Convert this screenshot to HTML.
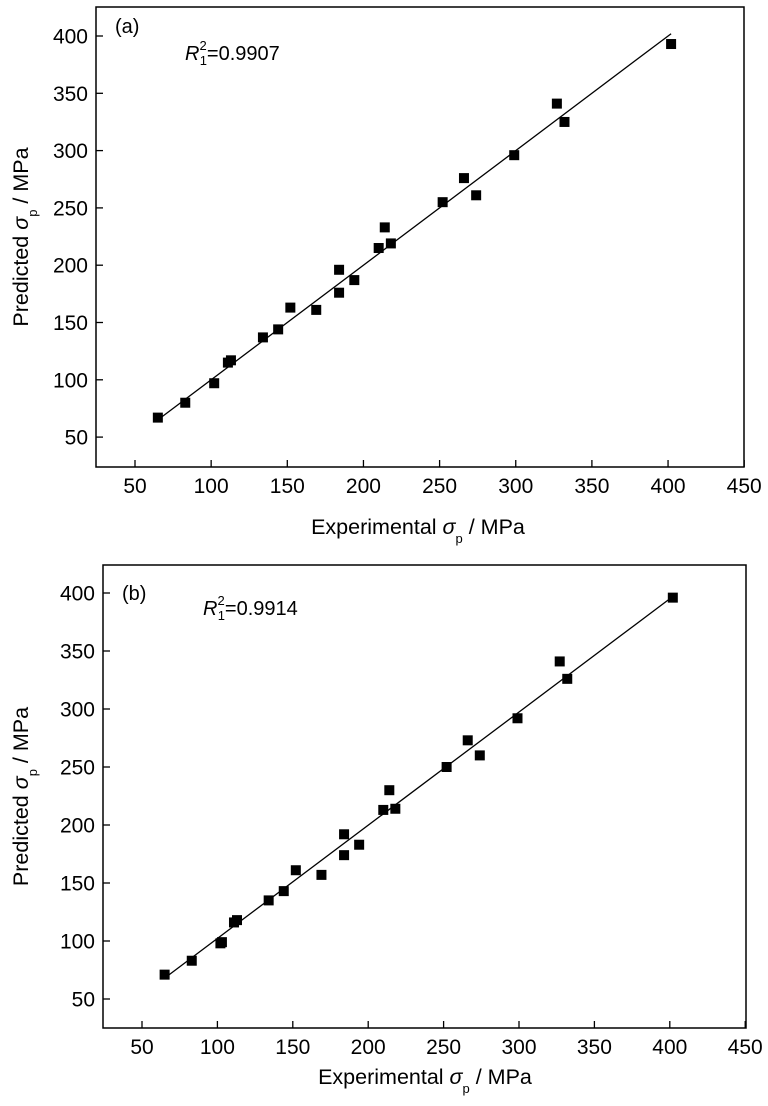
<!DOCTYPE html>
<html><head><meta charset="utf-8"><style>
body{margin:0;background:#fff}
svg{display:block}
text{font-family:"Liberation Sans",Arial,sans-serif;fill:#000}
</style></head><body>
<svg id="s" width="768" height="1106" xmlns="http://www.w3.org/2000/svg"></svg>
<script>
const s=document.getElementById('s');let h='';
function plot(o){
 const {L,R,T,B,x50,xs,y400,ys,pts,line,lab,labx,laby,r2,r2x,r2y,tx,ty}=o;
 const X=v=>x50+(v-50)*xs, Y=v=>y400+(400-v)*ys;
 h+=`<rect x="${L}" y="${T}" width="${R-L}" height="${B-T}" fill="none" stroke="#000" stroke-width="1.5"/>`;
 for(let v=50;v<=450;v+=50){const x=X(v);h+=`<line x1="${x}" y1="${B}" x2="${x}" y2="${B-7}" stroke="#000" stroke-width="1.3"/><text x="${x}" y="${B+26}" font-size="21" text-anchor="middle">${v}</text>`;}
 for(let v=50;v<=400;v+=50){const y=Y(v);h+=`<line x1="${L}" y1="${y}" x2="${L+7}" y2="${y}" stroke="#000" stroke-width="1.3"/><text x="${L-8}" y="${y+7.5}" font-size="21" text-anchor="end">${v}</text>`;}
 h+=`<line x1="${X(line[0])}" y1="${Y(line[1])}" x2="${X(line[2])}" y2="${Y(line[3])}" stroke="#000" stroke-width="1.3"/>`;
 pts.forEach(p=>{h+=`<rect x="${X(p[0])-5}" y="${Y(p[1])-5}" width="10" height="10" fill="#000"/>`;});
 h+=`<text x="${labx}" y="${laby}" font-size="20">${lab}</text>`;
 h+=`<text x="${r2x}" y="${r2y}" font-size="20"><tspan font-style="italic">R</tspan><tspan font-size="13" dy="-10">2</tspan><tspan font-size="13" dx="-7" dy="15">1</tspan><tspan dy="-5">=${r2}</tspan></text>`;
 h+=`<text x="${tx}" y="${ty}" font-size="21.5" text-anchor="middle">Experimental <tspan font-style="italic">σ</tspan><tspan font-size="13" dy="9">p</tspan><tspan dy="-9"> / MPa</tspan></text>`;
 const cy=(T+B)/2;
 h+=`<text transform="translate(28,${cy}) rotate(-90)" font-size="21.5" text-anchor="middle">Predicted <tspan font-style="italic">σ</tspan><tspan font-size="13" dy="9">p</tspan><tspan dy="-9"> / MPa</tspan></text>`;
}
plot({L:96,R:744,T:7,B:467,x50:135,xs:1.523,y400:36,ys:1.146,
 pts:[[65,67],[83,80],[102,97],[111,115],[113,117],[134,137],[144,144],[152,163],[169,161],[184,196],[184,176],[194,187],[210,215],[214,233],[218,219],[252,255],[266,276],[274,261],[299,296],[327,341],[332,325],[402,393]],
 line:[65,65,402,402],lab:"(a)",labx:115,laby:33,r2:"0.9907",r2x:185,r2y:60,tx:418,ty:534});
plot({L:103,R:746,T:565,B:1028,x50:142,xs:1.508,y400:593,ys:1.16,
 pts:[[65,71],[83,83],[102,98],[103,99],[111,116],[113,118],[134,135],[144,143],[152,161],[169,157],[184,192],[184,174],[194,183],[210,213],[214,230],[218,214],[252,250],[266,273],[274,260],[299,292],[327,341],[332,326],[402,396]],
 line:[65,68,402,397],lab:"(b)",labx:122,laby:600,r2:"0.9914",r2x:203,r2y:615,tx:425,ty:1084});
s.innerHTML=h;
</script>
</body></html>
